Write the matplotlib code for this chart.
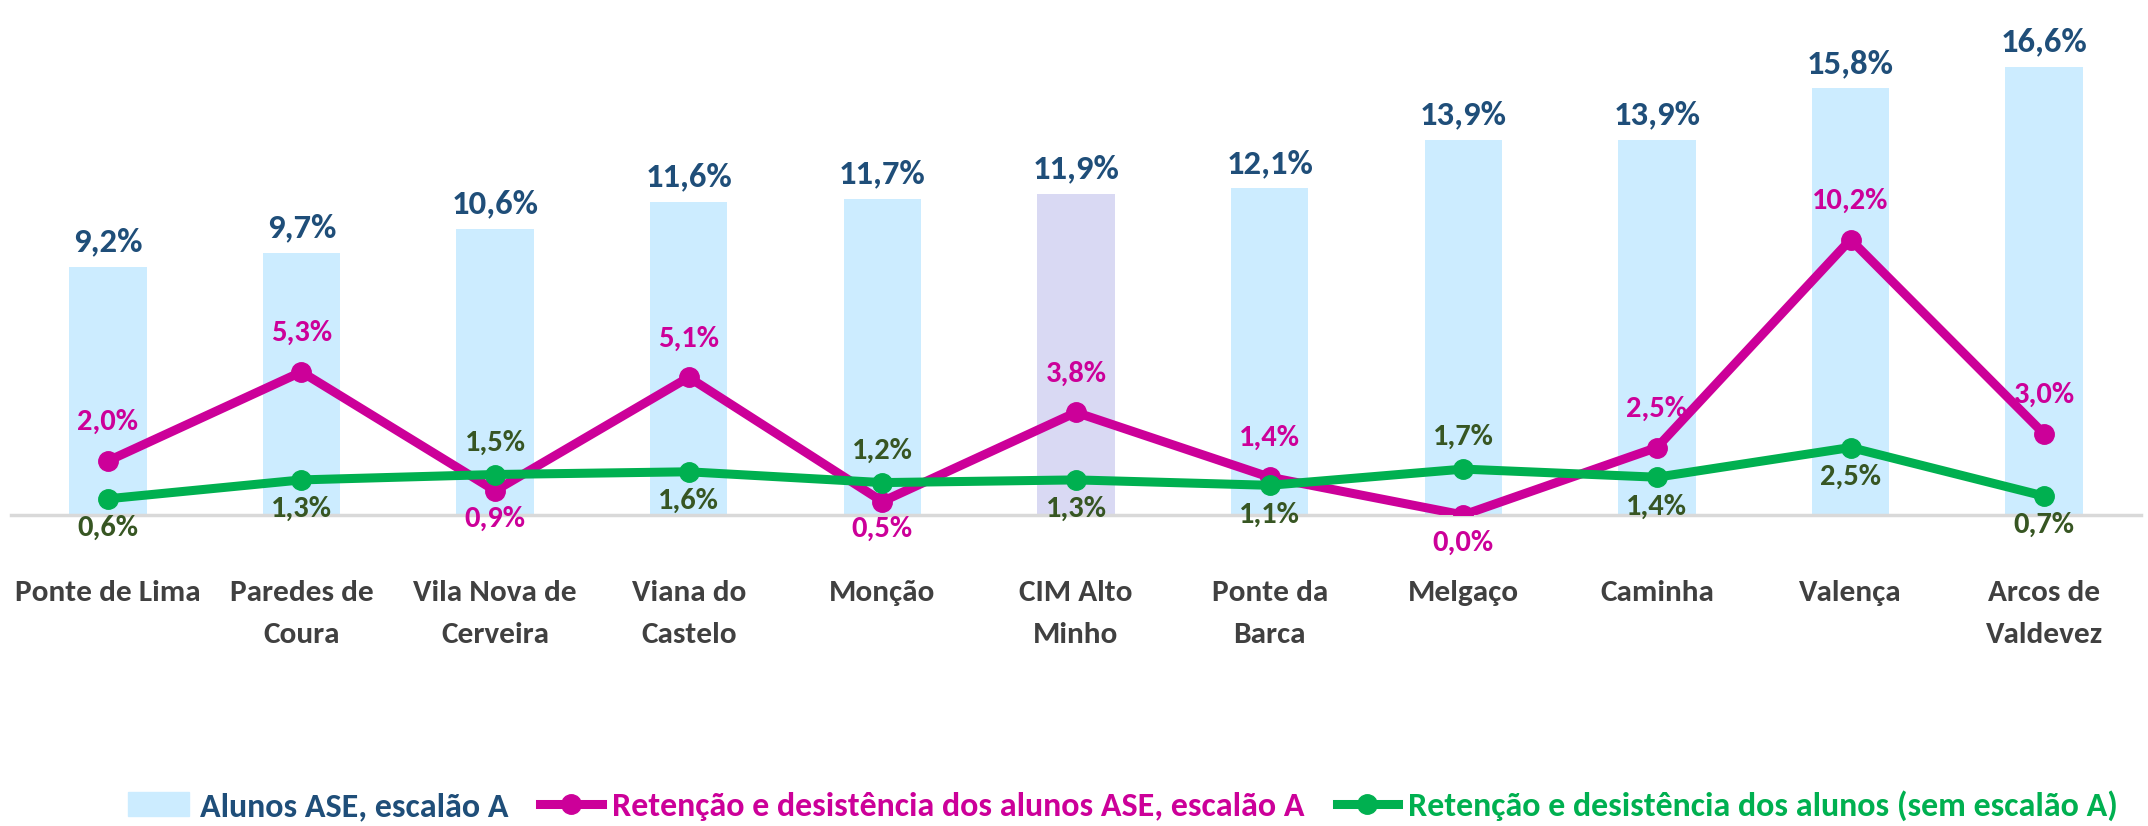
import numpy as np
import matplotlib.pyplot as plt
from matplotlib.patches import Patch
from matplotlib.lines import Line2D

concelhos = ["Ponte de Lima", "Paredes de\nCoura", "Vila Nova de\nCerveira", "Viana do\nCastelo",
             "Monção", "CIM Alto\nMinho", "Ponte da\nBarca", "Melgaço", "Caminha", "Valença",
             "Arcos de\nValdevez"]
ase_a = [9.2, 9.7, 10.6, 11.6, 11.7, 11.9, 12.1, 13.9, 13.9, 15.8, 16.6]
ret_ase = [2.0, 5.3, 0.9, 5.1, 0.5, 3.8, 1.4, 0.0, 2.5, 10.2, 3.0]
ret_sem = [0.6, 1.3, 1.5, 1.6, 1.2, 1.3, 1.1, 1.7, 1.4, 2.5, 0.7]

# label above (1) or below (-1) the point
pos_ase = [1, 1, -1, 1, -1, 1, 1, -1, 1, 1, 1]
pos_sem = [-1, -1, 1, -1, 1, -1, -1, 1, -1, -1, -1]

plt.rcParams['font.family'] = ['Carlito', 'DejaVu Sans']
plt.rcParams['font.weight'] = 'bold'

c_bar = "#CCECFF"
c_cim = "#D9D9F3"
c_barlab = "#1F4E79"
c_pink = "#CC0099"
c_green = "#00B050"
c_greenlab = "#375623"

fig = plt.figure(figsize=(21.48, 8.26), dpi=100)
ax = fig.add_axes([11 / 2148, 311 / 826, 2130 / 2148, 486 / 826])

x = np.arange(len(concelhos))
cols = [c_cim if n.startswith("CIM") else c_bar for n in concelhos]
ax.bar(x, ase_a, width=0.4, color=cols, zorder=1)
ax.plot(x, ret_ase, color=c_pink, lw=6.5, marker='o', ms=14, zorder=3)
ax.plot(x, ret_sem, color=c_green, lw=6.5, marker='o', ms=14, zorder=4)


def pct(v):
    return f"{v:.1f}%".replace(".", ",")


for i, v in enumerate(ase_a):
    ax.annotate(pct(v), (i, v), xytext=(0, 18), textcoords='offset points',
                ha='center', va='center', fontsize=25, color=c_barlab, fontweight='bold')
for i, v in enumerate(ret_ase):
    off = 28 if pos_ase[i] > 0 else -20
    ax.annotate(pct(v), (i, v), xytext=(0, off), textcoords='offset points',
                ha='center', va='center', fontsize=22, color=c_pink, fontweight='bold')
for i, v in enumerate(ret_sem):
    off = 23 if pos_sem[i] > 0 else -21
    ax.annotate(pct(v), (i, v), xytext=(0, off), textcoords='offset points',
                ha='center', va='center', fontsize=22, color=c_greenlab, fontweight='bold')

ax.set_xlim(-0.5, len(concelhos) - 0.5)
ax.set_ylim(0, 18)
ax.set_yticks([])
for s in ['top', 'right', 'left']:
    ax.spines[s].set_visible(False)
ax.spines['bottom'].set_color("#D9D9D9")
ax.spines['bottom'].set_linewidth(2.5)
ax.set_xticks(x)
ax.set_xticklabels(concelhos, fontsize=22.5, color="#404040", fontweight='bold', linespacing=1.75)
ax.tick_params(axis='x', length=0, pad=47)

handles = [Patch(color=c_bar),
           Line2D([], [], color=c_pink, lw=6.5, marker='o', ms=14),
           Line2D([], [], color=c_green, lw=6.5, marker='o', ms=14)]
labels = ["Alunos ASE, escalão A", "Retenção e desistência dos alunos ASE, escalão A",
          "Retenção e desistência dos alunos (sem escalão A)"]
leg = fig.legend(handles, labels, loc='center', bbox_to_anchor=(1123 / 2148, 1 - 806 / 826), ncol=3,
                 frameon=False, fontsize=24.5, handlelength=1.8, handletextpad=0.3, columnspacing=0.95)
for t, c in zip(leg.get_texts(), [c_barlab, c_pink, c_green]):
    t.set_color(c)

fig.savefig("out.png", dpi=100)
